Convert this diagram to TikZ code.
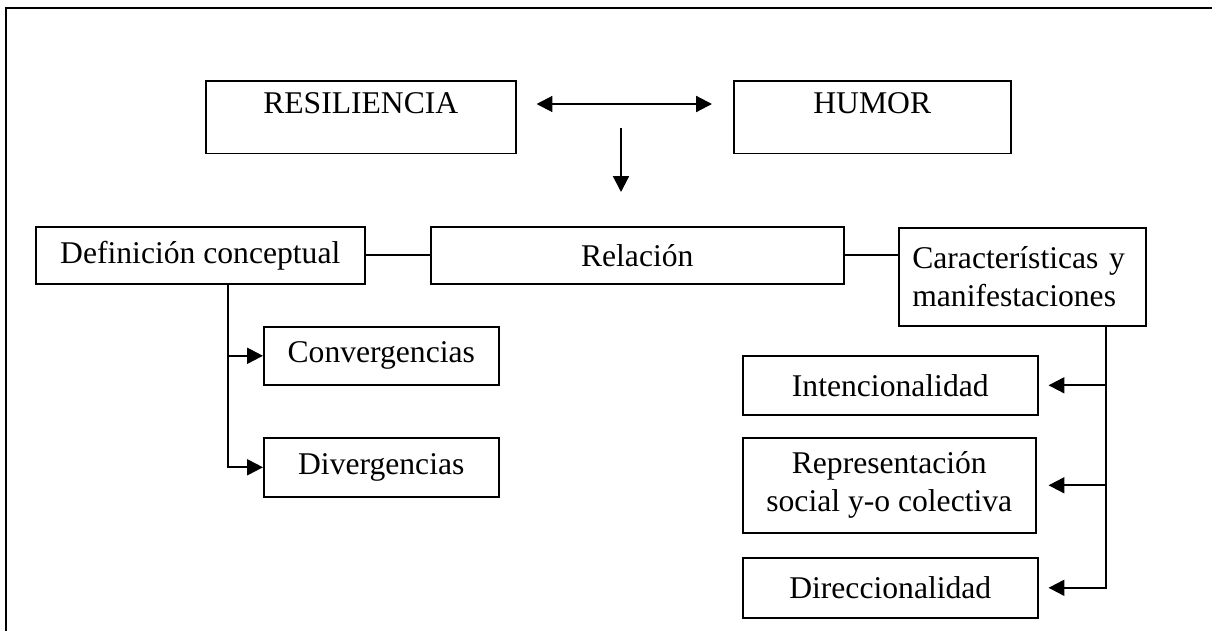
\documentclass[tikz,border=0pt]{standalone}
\usepackage{fontspec}
\setmainfont{Liberation Serif}
\usetikzlibrary{arrows.meta,positioning,calc}

\tikzset{
  box/.style={draw,line width=0.9pt,inner sep=0pt,anchor=north west,align=center,
    font=\fontsize{18}{21.6}\selectfont},
  link/.style={line width=1.2pt},
  arr/.style={link,-{Triangle[length=9pt,width=9pt]}}
}

\begin{document}
\begin{tikzpicture}[x=0.02cm,y=-0.02cm]
\useasboundingbox (0,0) rectangle (1212,630);
% frame
\draw[line width=1.6pt] (6,632) -- (6,8) -- (1214,8);
% top row
\node[box,minimum width=6.2cm,text height=18.8pt,text depth=22.6pt] (res) at (205,80) {RESILIENCIA};
\node[box,minimum width=5.54cm,text height=18.8pt,text depth=22.6pt] (hum) at (733,80) {HUMOR};
\draw[link,{Triangle[length=9pt,width=9pt]}-{Triangle[length=9pt,width=9pt]}]
  ([xshift=0.4cm,yshift=-0.48cm]res.north east) -- ([xshift=-0.42cm,yshift=-0.48cm]hum.north west);
\coordinate (dtop) at (621,128);
\coordinate (dbot) at (621,192);
\draw[arr] (dtop) -- (dbot);
% middle row
\node[box,minimum width=6.58cm,minimum height=1.14cm] (def) at (35,226) {Definición conceptual};
\node[box,minimum width=8.26cm,minimum height=1.14cm] (rel) at (430,226) {Relación};
\node[box,text width=4.4cm,inner xsep=0.27cm,minimum height=1.96cm,align=left] (car) at (898,227)
  {Características y\\manifestaciones};
\draw[link] (def.east) -- (def.east -| rel.west);
\draw[link] (rel.east) -- (rel.east -| car.west);
% left branch
\node[box,minimum width=4.7cm,minimum height=1.16cm] (conv) at (263,326) {Convergencias};
\node[box,minimum width=4.7cm,minimum height=1.18cm] (div) at (263,437) {Divergencias};
\coordinate (lb) at ([xshift=3.86cm]def.south west);
\draw[arr] (lb) |- (conv.west);
\draw[arr] (lb) |- (div.west);
% right branch
\node[box,minimum width=5.9cm,minimum height=1.18cm] (int) at (742,355) {Intencionalidad};
\node[box,minimum width=5.86cm,minimum height=1.9cm] (rep) at (742,437) {Representación\\social y-o colectiva};
\node[box,minimum width=5.9cm,minimum height=1.2cm] (dir) at (742,557) {Direccionalidad};
\coordinate (rb) at ([xshift=-0.82cm]car.south east);
\draw[arr,shorten >=0.2cm] (rb) |- (int.east);
\draw[arr,shorten >=0.24cm] (rb) |- (rep.east);
\draw[arr,shorten >=0.2cm] (rb) |- (dir.east);
\end{tikzpicture}
\end{document}
